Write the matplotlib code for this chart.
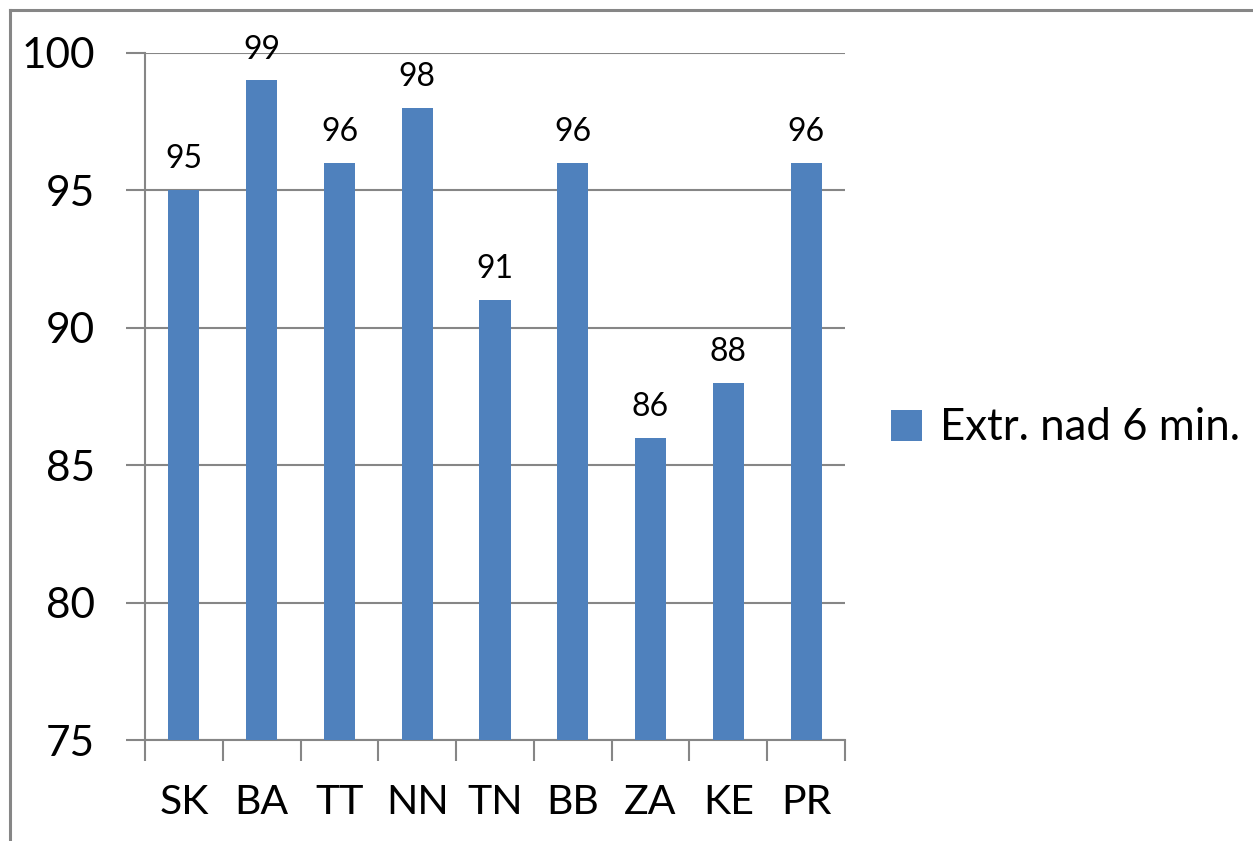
import matplotlib
matplotlib.use("Agg")
import matplotlib.pyplot as plt
from matplotlib.lines import Line2D
from matplotlib.patches import Patch

regions = ["SK", "BA", "TT", "NN", "TN", "BB", "ZA", "KE", "PR"]
values = [95, 99, 96, 98, 91, 96, 86, 88, 96]
series_name = "Extr. nad 6 min."
y_ticks = [75, 80, 85, 90, 95, 100]

bar_color = "#4F81BD"
axis_gray = "#868686"
plt.rcParams["font.family"] = ["Lato", "DejaVu Sans"]

W, H = 1253, 841
fig = plt.figure(figsize=(W / 100, H / 100), dpi=100)
fig.patch.set_facecolor("white")

# plot area in pixel coordinates
left, right, top, bottom = 145, 845, 53, 740
ax = fig.add_axes([left / W, 1 - bottom / H, (right - left) / W, (bottom - top) / H])

x = list(range(len(regions)))
ax.bar(x, values, width=0.4, color=bar_color, zorder=3, bottom=0)
ax.set_xlim(-0.5, len(regions) - 0.5)
ax.set_ylim(75, 100)
ax.set_yticks(y_ticks)
ax.set_yticklabels([str(t) for t in y_ticks], fontsize=30.5)
ax.yaxis.grid(True, color=axis_gray, linewidth=1.5, zorder=0)
ax.tick_params(axis="y", length=14, width=1.5, color=axis_gray, pad=22, direction="out")

# category labels centred under bars, tick marks at category boundaries
ax.set_xticks(x)
ax.set_xticklabels(regions, fontsize=29.5)
ax.tick_params(axis="x", length=0, pad=32)
ax.set_xticks([i - 0.5 for i in range(len(regions) + 1)], minor=True)
ax.tick_params(axis="x", which="minor", length=15, width=1.5, color=axis_gray, direction="out")

for side in ["top", "right"]:
    ax.spines[side].set_visible(False)
for side in ["left", "bottom"]:
    ax.spines[side].set_color(axis_gray)
    ax.spines[side].set_linewidth(1.5)

for xi, v in zip(x, values):
    ax.annotate(str(v), (xi, v), xytext=(0, 11.5), textcoords="offset points",
                ha="center", va="bottom", fontsize=23, zorder=4)

leg = fig.legend(handles=[Patch(facecolor=bar_color, edgecolor="none", label=series_name)],
                 loc="center left", bbox_to_anchor=(891 / W, 1 - 428 / H),
                 frameon=False, fontsize=31.5, handlelength=0.7, handleheight=0.7,
                 handletextpad=0.42, borderpad=0, borderaxespad=0)

# outer chart border (top and left edges)
fig.add_artist(Line2D([10 / W, 10 / W], [0, 1 - 10 / H], color=axis_gray, linewidth=2.2,
                      transform=fig.transFigure))
fig.add_artist(Line2D([10 / W, 1], [1 - 10 / H, 1 - 10 / H], color=axis_gray, linewidth=2.2,
                      transform=fig.transFigure))

fig.savefig("out.png", dpi=100, facecolor="white")
